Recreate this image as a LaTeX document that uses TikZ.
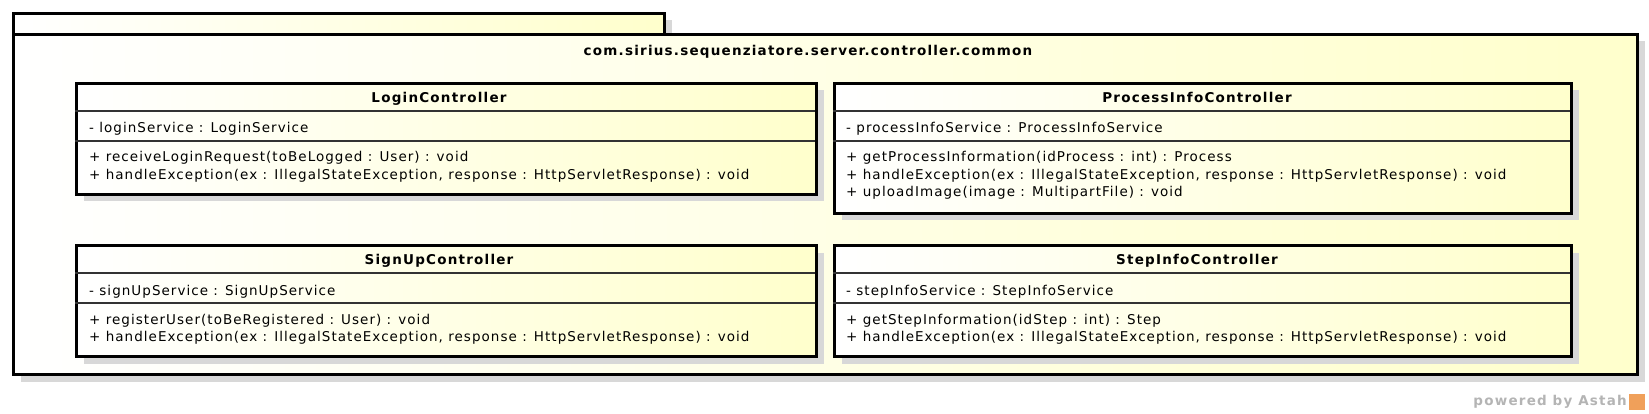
\documentclass[tikz,border=0pt]{standalone}
\usepackage{fontspec}
\setmainfont{DejaVu Sans}[LetterSpace = 7.7, BoldFeatures = {LetterSpace = 9.0}]
\usetikzlibrary{shadows}
\definecolor{umlYellow}{RGB}{255,255,204}
\definecolor{umlShadow}{RGB}{216,216,216}
\definecolor{umlGray}{RGB}{180,180,180}
\definecolor{astahOrange}{RGB}{240,160,90}

\begin{document}
\begin{tikzpicture}[x = 1pt, y = -1pt, font = \fontsize{13.5}{17}\selectfont]
	\tikzstyle{boxStyle} = [draw, line width = 3pt, inner sep = 0pt, anchor = north west, left color = white, right color = umlYellow, drop shadow = {shadow xshift = 7pt, shadow yshift = -7pt, fill = umlShadow, opacity = 1}]
	\tikzstyle{sepStyle} = [line width = 1.5pt, black!80]
	\tikzstyle{nameStyle} = [anchor = base, inner sep = 0pt, font = \fontsize{13.5}{17}\selectfont\bfseries]
	\tikzstyle{memberStyle} = [anchor = base west, inner sep = 0pt]
	\useasboundingbox (0, 0) rectangle (1649, 414);
	% package
	\node[boxStyle, minimum width = 651, minimum height = 21] (pkgTab) at (12, 12) {};
	\node[boxStyle, minimum width = 1624, minimum height = 340] (pkgBody) at (12, 33) {};
	\node[nameStyle] (pkgName) at (808, 55.5) {com.sirius.sequenziatore.server.controller.common};
	% LoginController
	\node[boxStyle, minimum width = 740, minimum height = 111] (login) at (75, 82) {};
	\draw[sepStyle] (75, 111) -- (815, 111);
	\draw[sepStyle] (75, 141) -- (815, 141);
	\node[nameStyle] (loginName) at (439, 103) {LoginController};
	\node[memberStyle] (loginA1) at (89, 133) {- loginService : LoginService};
	\node[memberStyle] (loginM1) at (89, 162) {+ receiveLoginRequest(toBeLogged : User) : void};
	\node[memberStyle] (loginM2) at (89, 179.5) {+ handleException(ex : IllegalStateException, response : HttpServletResponse) : void};
	% ProcessInfoController
	\node[boxStyle, minimum width = 737, minimum height = 130] (procInfo) at (833, 82) {};
	\draw[sepStyle] (833, 111) -- (1570, 111);
	\draw[sepStyle] (833, 141) -- (1570, 141);
	\node[nameStyle] (procInfoName) at (1197, 103) {ProcessInfoController};
	\node[memberStyle] (procInfoA1) at (846, 133) {- processInfoService : ProcessInfoService};
	\node[memberStyle] (procInfoM1) at (846, 162) {+ getProcessInformation(idProcess : int) : Process};
	\node[memberStyle] (procInfoM2) at (846, 179.5) {+ handleException(ex : IllegalStateException, response : HttpServletResponse) : void};
	\node[memberStyle] (procInfoM3) at (846, 197) {+ uploadImage(image : MultipartFile) : void};
	% SignUpController
	\node[boxStyle, minimum width = 740, minimum height = 111] (signUp) at (75, 244) {};
	\draw[sepStyle] (75, 273) -- (815, 273);
	\draw[sepStyle] (75, 303) -- (815, 303);
	\node[nameStyle] (signUpName) at (439, 265) {SignUpController};
	\node[memberStyle] (signUpA1) at (89, 295) {- signUpService : SignUpService};
	\node[memberStyle] (signUpM1) at (89, 324) {+ registerUser(toBeRegistered : User) : void};
	\node[memberStyle] (signUpM2) at (89, 341.5) {+ handleException(ex : IllegalStateException, response : HttpServletResponse) : void};
	% StepInfoController
	\node[boxStyle, minimum width = 737, minimum height = 111] (stepInfo) at (833, 244) {};
	\draw[sepStyle] (833, 273) -- (1570, 273);
	\draw[sepStyle] (833, 303) -- (1570, 303);
	\node[nameStyle] (stepInfoName) at (1197, 265) {StepInfoController};
	\node[memberStyle] (stepInfoA1) at (846, 295) {- stepInfoService : StepInfoService};
	\node[memberStyle] (stepInfoM1) at (846, 324) {+ getStepInformation(idStep : int) : Step};
	\node[memberStyle] (stepInfoM2) at (846, 341.5) {+ handleException(ex : IllegalStateException, response : HttpServletResponse) : void};
	% footer
	\node[anchor = base east, inner sep = 0pt, text = umlGray, font = \fontsize{13.5}{15}\selectfont\bfseries] (poweredBy) at (1627, 405) {powered by Astah};
	\node[anchor = north west, fill = astahOrange, minimum width = 16, minimum height = 16, inner sep = 0pt] (astahLogo) at (1629, 394) {};
\end{tikzpicture}
\end{document}
